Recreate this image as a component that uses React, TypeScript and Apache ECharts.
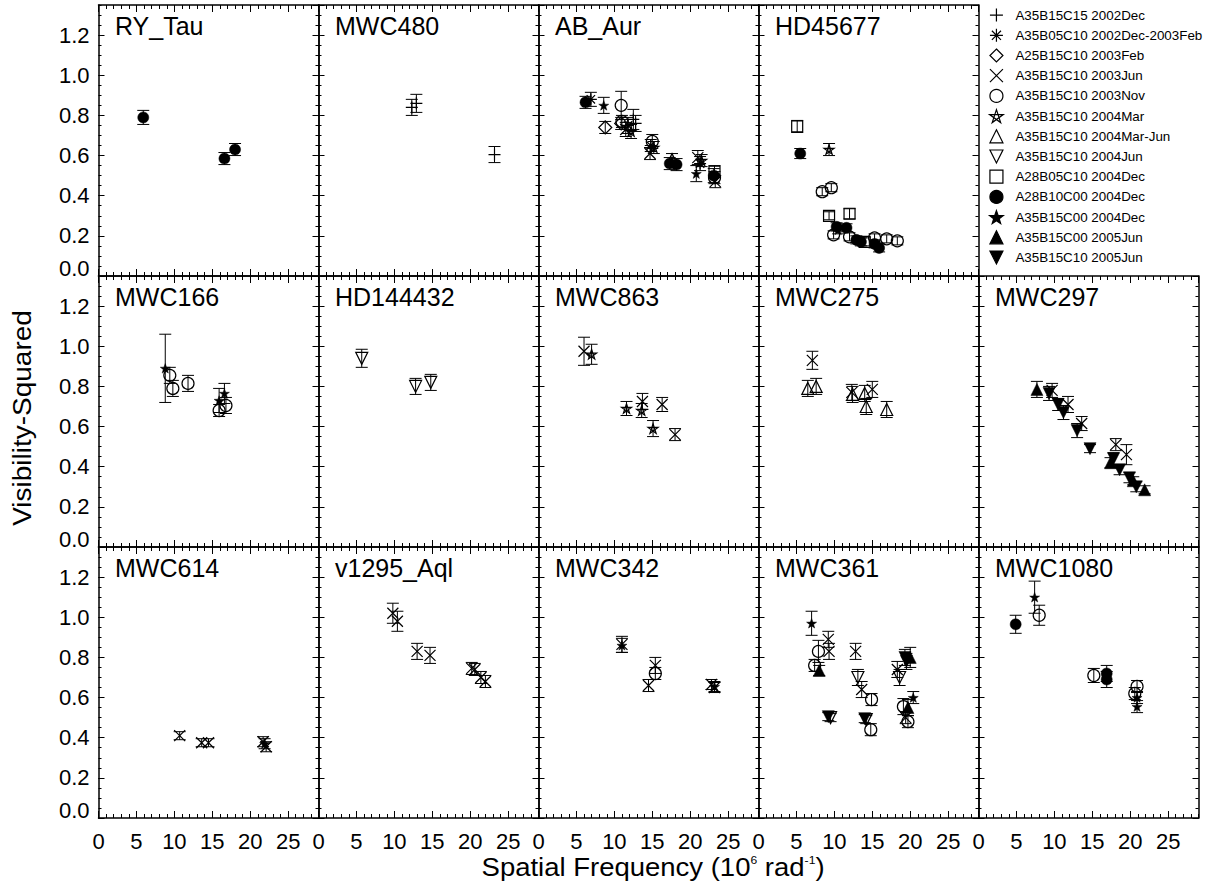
import React, { useEffect, useRef } from 'react';
import * as echarts from 'echarts';

// ---------------- data ----------------
const SERIES_NAMES = [
  'A35B15C15 2002Dec',
  'A35B05C10 2002Dec-2003Feb',
  'A25B15C10 2003Feb',
  'A35B15C10 2003Jun',
  'A35B15C10 2003Nov',
  'A35B15C10 2004Mar',
  'A35B15C10 2004Mar-Jun',
  'A35B15C10 2004Jun',
  'A28B05C10 2004Dec',
  'A28B10C00 2004Dec',
  'A35B15C00 2004Dec',
  'A35B15C00 2005Jun',
  'A35B15C10 2005Jun',
];
const P = 0, AST = 1, DIA = 2, X = 3, OC = 4, ST = 5, TU = 6, TD = 7, SQ = 8, FC = 9, FS = 10, FTU = 11, FTD = 12;

const X_MIN = 0, X_MAX = 29, X_MAJOR = 5, X_MINOR = 1;
const Y_MIN = 0, Y_MAX = 1.35, Y_MAJOR = 0.2, Y_MINOR = 0.05;

// [spatial frequency, V^2, error, dataset]
const RY_Tau = [[5.9, 0.79, 0.035, FC], [16.6, 0.585, 0.03, FC], [18.0, 0.63, 0.03, FC]];
const MWC480 = [[12.3, 0.84, 0.04, P], [12.9, 0.86, 0.045, P], [23.2, 0.605, 0.04, P]];
const AB_Aur = [
  [6.2, 0.865, 0.03, FC], [6.9, 0.88, 0.035, AST], [8.6, 0.85, 0.04, FS], [8.8, 0.74, 0.03, DIA],
  [10.9, 0.85, 0.07, OC], [10.9, 0.76, 0.03, DIA], [11.0, 0.77, 0.03, OC], [11.5, 0.73, 0.035, X],
  [11.8, 0.75, 0.04, AST], [12.2, 0.72, 0.035, ST], [12.5, 0.78, 0.05, P], [12.8, 0.76, 0.04, P],
  [14.7, 0.61, 0.03, X], [14.8, 0.65, 0.03, AST], [15.0, 0.67, 0.035, OC], [15.2, 0.64, 0.03, ST],
  [17.3, 0.56, 0.03, FC], [17.6, 0.58, 0.03, TU], [18.2, 0.555, 0.03, FC], [20.8, 0.51, 0.04, FS],
  [21.0, 0.59, 0.035, X], [21.3, 0.56, 0.035, AST], [21.5, 0.575, 0.03, ST], [23.2, 0.52, 0.03, SQ],
  [23.2, 0.49, 0.03, OC], [23.3, 0.47, 0.03, X], [23.1, 0.50, 0.035, FC],
];
const HD45677 = [
  [5.1, 0.745, 0.03, SQ], [5.5, 0.61, 0.025, FC], [9.3, 0.63, 0.03, ST], [8.4, 0.42, 0.02, OC],
  [9.6, 0.44, 0.02, OC], [9.3, 0.30, 0.02, SQ], [12.0, 0.31, 0.025, SQ], [10.3, 0.245, 0.02, FC],
  [11.6, 0.24, 0.02, FC], [9.9, 0.205, 0.02, OC], [12.0, 0.195, 0.02, OC], [12.9, 0.18, 0.02, FC],
  [14.0, 0.17, 0.02, SQ], [15.3, 0.19, 0.02, OC], [16.9, 0.185, 0.02, OC], [18.3, 0.175, 0.02, OC],
  [15.3, 0.16, 0.02, FC], [15.9, 0.14, 0.02, FC], [13.5, 0.17, 0.02, FC], [10.5, 0.23, 0.02, FS],
];
const MWC166 = [
  [8.8, 0.89, 0.17, FS], [9.4, 0.855, 0.04, OC], [9.8, 0.79, 0.04, OC], [11.8, 0.815, 0.04, OC],
  [15.9, 0.73, 0.06, FS], [15.9, 0.68, 0.03, OC], [16.6, 0.765, 0.05, FS], [16.8, 0.705, 0.04, OC],
];
const HD144432 = [[5.7, 0.94, 0.045, TD], [12.8, 0.80, 0.04, TD], [14.8, 0.82, 0.04, TD]];
const MWC863 = [
  [6.0, 0.975, 0.07, X], [7.0, 0.96, 0.05, ST], [11.6, 0.69, 0.035, ST], [13.6, 0.68, 0.035, ST],
  [13.7, 0.725, 0.04, X], [16.3, 0.71, 0.035, X], [15.1, 0.59, 0.04, ST], [18.0, 0.56, 0.03, X],
];
const MWC275 = [
  [7.1, 0.93, 0.045, X], [6.5, 0.79, 0.04, TU], [7.6, 0.80, 0.04, TU], [12.3, 0.77, 0.04, X],
  [12.4, 0.76, 0.04, TU], [14.0, 0.765, 0.04, TU], [15.0, 0.785, 0.04, X], [14.2, 0.70, 0.04, TU],
  [16.9, 0.685, 0.04, TU],
];
const MWC297 = [
  [7.7, 0.785, 0.04, FTU], [9.3, 0.765, 0.035, FTD], [9.7, 0.78, 0.035, X], [10.5, 0.71, 0.03, FTD],
  [11.8, 0.71, 0.04, X], [11.2, 0.67, 0.035, FTD], [13.0, 0.58, 0.035, FTD], [13.6, 0.615, 0.035, X],
  [14.7, 0.49, 0.02, FTD], [18.1, 0.51, 0.03, X], [17.4, 0.42, 0.025, FTU], [17.8, 0.44, 0.03, FTD],
  [19.5, 0.46, 0.05, X], [18.6, 0.385, 0.025, FTD], [19.9, 0.345, 0.025, FTD], [20.4, 0.33, 0.02, FTU],
  [20.8, 0.30, 0.025, FTD], [21.9, 0.285, 0.02, FTU],
];
const MWC614 = [
  [10.7, 0.41, 0.02, X], [13.6, 0.375, 0.02, X], [14.5, 0.375, 0.02, X], [21.7, 0.38, 0.025, X],
  [21.9, 0.37, 0.025, FS], [22.1, 0.355, 0.025, X],
];
const v1295_Aql = [
  [9.8, 1.02, 0.05, X], [10.4, 0.98, 0.05, X], [13.0, 0.83, 0.04, X], [14.7, 0.81, 0.04, X],
  [20.2, 0.745, 0.03, X], [20.6, 0.74, 0.03, X], [21.4, 0.70, 0.03, X], [22.0, 0.68, 0.03, X],
];
const MWC342 = [
  [11.0, 0.865, 0.04, X], [11.0, 0.86, 0.035, FS], [15.4, 0.76, 0.04, X], [15.4, 0.72, 0.03, OC],
  [14.5, 0.66, 0.03, X], [22.8, 0.665, 0.025, X], [23.2, 0.65, 0.025, X], [23.2, 0.655, 0.025, FS],
];
const MWC361 = [
  [7.0, 0.97, 0.06, FS], [7.9, 0.83, 0.055, OC], [7.4, 0.76, 0.03, OC], [8.0, 0.735, 0.025, FTU],
  [9.2, 0.89, 0.04, X], [9.3, 0.83, 0.04, X], [9.2, 0.505, 0.02, FTD], [9.5, 0.50, 0.02, TD],
  [12.8, 0.83, 0.04, X], [13.1, 0.70, 0.04, TD], [13.6, 0.64, 0.04, X], [14.9, 0.59, 0.03, OC],
  [14.0, 0.495, 0.02, FTD], [14.2, 0.49, 0.02, TD], [14.8, 0.44, 0.03, OC], [18.3, 0.74, 0.04, X],
  [18.6, 0.70, 0.04, TD], [19.3, 0.80, 0.04, FTD], [19.5, 0.78, 0.04, FTD], [20.0, 0.80, 0.05, FTU],
  [19.1, 0.555, 0.04, OC], [19.7, 0.55, 0.04, FTU], [19.4, 0.50, 0.03, X], [19.7, 0.48, 0.03, OC],
  [20.4, 0.60, 0.03, FS],
];
const MWC1080 = [
  [4.9, 0.965, 0.045, FC], [7.4, 1.10, 0.08, FS], [8.0, 1.01, 0.05, OC], [15.2, 0.71, 0.035, OC],
  [16.9, 0.72, 0.04, FC], [16.9, 0.69, 0.04, FC], [20.9, 0.655, 0.03, OC], [20.6, 0.62, 0.03, OC],
  [20.9, 0.60, 0.03, FS], [20.9, 0.555, 0.03, FS],
];

const PANELS = [
  { name: 'RY_Tau', row: 0, col: 0, data: RY_Tau },
  { name: 'MWC480', row: 0, col: 1, data: MWC480 },
  { name: 'AB_Aur', row: 0, col: 2, data: AB_Aur },
  { name: 'HD45677', row: 0, col: 3, data: HD45677 },
  { name: 'MWC166', row: 1, col: 0, data: MWC166 },
  { name: 'HD144432', row: 1, col: 1, data: HD144432 },
  { name: 'MWC863', row: 1, col: 2, data: MWC863 },
  { name: 'MWC275', row: 1, col: 3, data: MWC275 },
  { name: 'MWC297', row: 1, col: 4, data: MWC297 },
  { name: 'MWC614', row: 2, col: 0, data: MWC614 },
  { name: 'v1295_Aql', row: 2, col: 1, data: v1295_Aql },
  { name: 'MWC342', row: 2, col: 2, data: MWC342 },
  { name: 'MWC361', row: 2, col: 3, data: MWC361 },
  { name: 'MWC1080', row: 2, col: 4, data: MWC1080 },
];

// ---------------- styles ----------------
const FONT = '"Liberation Sans", Arial, Helvetica, sans-serif';
const GRID_LEFT = 98.5, GRID_W = 220, GRID_TOP = 5, GRID_H = 271;

const PENTAGRAM = 'path://M5,0L7.939,9.045L0.245,3.455L9.755,3.455L2.061,9.045Z';
const STAR = 'path://M5,0L6.176,3.382L9.755,3.455L6.902,5.618L7.939,9.045L5,7L2.061,9.045L3.098,5.618L0.245,3.455L3.824,3.382Z';
const TRI_UP = 'path://M5,0L10,10L0,10Z';
const TRI_DOWN = 'path://M0,0L10,0L5,10Z';
const DIAMOND = 'path://M5,0L10,5L5,10L0,5Z';
const SQUARE = 'path://M0,0L10,0L10,10L0,10Z';
const MARKERS = [
  { symbol: 'path://M0,5L10,5M5,0L5,10', size: 12, filled: false },
  { symbol: 'path://M0,5L10,5M5,0L5,10M1.5,1.5L8.5,8.5M1.5,8.5L8.5,1.5', size: 12, filled: false },
  { symbol: DIAMOND, size: 13, filled: false },
  { symbol: 'path://M0,0L10,10M0,10L10,0', size: 11, filled: false },
  { symbol: 'circle', size: 12, filled: false },
  { symbol: PENTAGRAM, size: 10, filled: false },
  { symbol: TRI_UP, size: 12, filled: false },
  { symbol: TRI_DOWN, size: 12, filled: false },
  { symbol: SQUARE, size: 11, filled: false },
  { symbol: 'circle', size: 11, filled: true },
  { symbol: STAR, size: 10, filled: true },
  { symbol: TRI_UP, size: 12, filled: true },
  { symbol: TRI_DOWN, size: 12, filled: true },
];

function buildOption() {
  const grid: any[] = [];
  const xAxis: any[] = [];
  const yAxis: any[] = [];
  const title: any[] = [];
  const series: any[] = [];

  const line = { show: true, onZero: false, lineStyle: { color: '#000', width: 1.5 } };
  const noLine = { show: false, onZero: false };
  const major = { show: true, inside: true, length: 7, lineStyle: { color: '#000', width: 1 } };
  const minor = { show: true, inside: true, length: 4, lineStyle: { color: '#000', width: 1 } };
  const majorY = { show: true, inside: true, length: 6, lineStyle: { color: '#000', width: 1 } };
  const minorY = { show: true, inside: true, length: 3, lineStyle: { color: '#000', width: 1 } };

  PANELS.forEach((p, gi) => {
    const left = GRID_LEFT + p.col * GRID_W;
    const top = GRID_TOP + p.row * GRID_H;
    grid.push({ left, top, width: GRID_W, height: GRID_H, containLabel: false, outerBoundsMode: 'none' });

    const xb = { type: 'value', gridIndex: gi, min: X_MIN, max: X_MAX, splitLine: { show: false }, splitArea: { show: false } };
    xAxis.push({
      ...xb, position: 'bottom', interval: X_MAJOR, axisLine: line, axisTick: major,
      axisLabel: p.row === 2
        ? { show: true, fontSize: 22, color: '#000', fontFamily: FONT, margin: 12, showMinLabel: true, showMaxLabel: false }
        : { show: false },
    });
    xAxis.push({ ...xb, position: 'bottom', interval: X_MINOR, axisLine: noLine, axisTick: minor, axisLabel: { show: false } });
    xAxis.push({ ...xb, position: 'top', interval: X_MAJOR, axisLine: line, axisTick: major, axisLabel: { show: false } });
    xAxis.push({ ...xb, position: 'top', interval: X_MINOR, axisLine: noLine, axisTick: minor, axisLabel: { show: false } });

    const yb = { type: 'value', gridIndex: gi, min: Y_MIN, max: Y_MAX, splitLine: { show: false }, splitArea: { show: false } };
    yAxis.push({
      ...yb, position: 'left', interval: Y_MAJOR, axisLine: line, axisTick: majorY,
      axisLabel: p.col === 0
        ? {
            show: true, fontSize: 22, color: '#000', fontFamily: FONT, margin: 9,
            showMinLabel: true, showMaxLabel: false,
            formatter: (v: number) => (Math.abs(v) < 1e-9 ? '{z|0.0}' : v.toFixed(1)),
            rich: { z: { fontSize: 22, color: '#000', fontFamily: FONT, padding: [0, 0, 15, 0] } },
          }
        : { show: false },
    });
    yAxis.push({ ...yb, position: 'left', interval: Y_MINOR, axisLine: noLine, axisTick: minorY, axisLabel: { show: false } });
    yAxis.push({ ...yb, position: 'right', interval: Y_MAJOR, axisLine: line, axisTick: majorY, axisLabel: { show: false } });
    yAxis.push({ ...yb, position: 'right', interval: Y_MINOR, axisLine: noLine, axisTick: minorY, axisLabel: { show: false } });

    title.push({
      text: p.name, left: left + 16.5, top: top + 8, padding: 0,
      textStyle: { fontSize: 25, fontWeight: 'normal', fontFamily: FONT, color: '#000' },
    });

    const ai = gi * 4;
    series.push({
      type: 'custom', name: 'errorbars', xAxisIndex: ai, yAxisIndex: ai, silent: true, z: 3,
      encode: { x: 0, y: 1 },
      data: p.data.map((d) => [d[0], d[1], d[2]]),
      renderItem: (params: any, api: any) => {
        const x = api.value(0), y = api.value(1), e = api.value(2);
        const t = api.coord([x, y + e]);
        const b = api.coord([x, y - e]);
        const style = { stroke: '#000', lineWidth: 1, fill: null };
        const cw = 6;
        return {
          type: 'group',
          children: [
            { type: 'line', shape: { x1: t[0], y1: t[1], x2: b[0], y2: b[1] }, style },
            { type: 'line', shape: { x1: t[0] - cw, y1: t[1], x2: t[0] + cw, y2: t[1] }, style },
            { type: 'line', shape: { x1: b[0] - cw, y1: b[1], x2: b[0] + cw, y2: b[1] }, style },
          ],
        };
      },
    });
    SERIES_NAMES.forEach((nm, k) => {
      const pts = p.data.filter((d) => d[3] === k);
      if (!pts.length) return;
      const m = MARKERS[k];
      series.push({
        type: 'scatter', name: nm, xAxisIndex: ai, yAxisIndex: ai, silent: true, z: 4,
        symbol: m.symbol, symbolSize: m.size, symbolKeepAspect: true,
        itemStyle: m.filled
          ? { color: '#000', borderColor: '#000', borderWidth: 0.5, opacity: 1 }
          : { color: 'rgba(0,0,0,0)', borderColor: '#000', borderWidth: 1.2, opacity: 1 },
        emphasis: { disabled: true },
        data: pts.map((d) => [d[0], d[1]]),
      });
    });
  });

  return {
    backgroundColor: '#fff',
    animation: false,
    title,
    grid,
    xAxis,
    yAxis,
    series,
    legend: {
      data: SERIES_NAMES,
      orient: 'vertical',
      left: 989,
      top: 8,
      padding: 0,
      itemWidth: 28,
      itemHeight: 13,
      itemGap: 6,
      symbolKeepAspect: true,
      selectedMode: false,
      itemStyle: { borderWidth: 1.2 },
      textStyle: { fontSize: 13.4, color: '#000', fontFamily: FONT },
    },
    graphic: [
      {
        type: 'text', x: 653, y: 867, scaleX: 1.1, silent: true,
        style: {
          text: '{n|Spatial Frequency (10}{s|6}{n| rad}{s|-1}{n|)}',
          align: 'center', verticalAlign: 'middle',
          rich: {
            n: { fontSize: 25, fontFamily: FONT, fill: '#000', verticalAlign: 'bottom' },
            s: { fontSize: 11, fontFamily: FONT, fill: '#000', verticalAlign: 'top' },
          },
        },
      },
      {
        type: 'text', x: 23, y: 418, rotation: Math.PI / 2, scaleX: 1.12, silent: true,
        style: {
          text: 'Visibility-Squared', fontSize: 25, fontFamily: FONT, fill: '#000',
          align: 'center', verticalAlign: 'middle',
        },
      },
    ],
  };
}

export default function App() {
  const ref = useRef<HTMLDivElement>(null);
  useEffect(() => {
    if (!ref.current) return;
    const chart = echarts.init(ref.current, null, { renderer: 'svg' });
    chart.setOption(buildOption() as any);
    return () => chart.dispose();
  }, []);
  return (
    <div
      ref={ref}
      style={{ position: 'fixed', left: 0, top: 0, width: 1205, height: 894, background: '#fff' }}
    />
  );
}
